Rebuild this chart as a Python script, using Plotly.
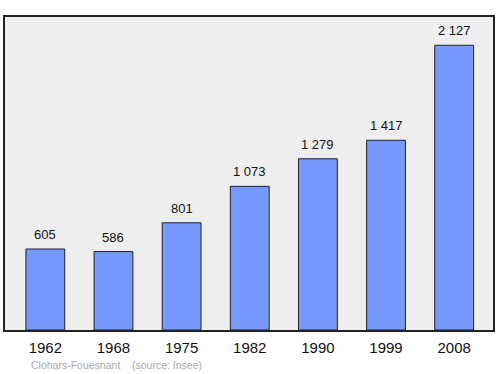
import plotly.graph_objects as go

years = ["1962", "1968", "1975", "1982", "1990", "1999", "2008"]
population = [605, 586, 801, 1073, 1279, 1417, 2127]
labels = ["605", "586", "801", "1 073", "1 279", "1 417", "2 127"]

xpos = list(range(len(years)))
FONT = "Liberation Sans, Arial, sans-serif"

fig = go.Figure(go.Bar(
    x=xpos, y=population, width=0.57,
    marker=dict(color="#7799ff", line=dict(color="#222222", width=1)),
    cliponaxis=False,
))

annotations = [
    dict(x=x, y=v, text=t, xref="x", yref="y", showarrow=False,
         yanchor="bottom", yshift=5,
         font=dict(family=FONT, size=13, color="#111111"))
    for x, v, t in zip(xpos, population, labels)
]
annotations.append(dict(
    text="Clohars-Fouesnant &nbsp;&nbsp;&nbsp;(source: Insee)",
    xref="paper", yref="paper", x=24 / 490, y=-35 / 313, xanchor="left", yanchor="middle",
    showarrow=False, font=dict(family=FONT, size=10.5, color="#aaaaaa"),
))

fig.update_layout(
    width=500, height=374,
    margin=dict(l=5, r=5, t=17, b=44),
    paper_bgcolor="white", plot_bgcolor="#eeeeee",
    showlegend=False,
    xaxis=dict(range=[-0.592, 6.57], tickvals=xpos, ticktext=years,
               showgrid=False, zeroline=False, showline=True, mirror=True,
               linecolor="#222222", linewidth=1.5, ticks="", ticklabelstandoff=3,
               tickfont=dict(family=FONT, size=15, color="#111111")),
    yaxis=dict(range=[0, 2338], showticklabels=False, showgrid=False, zeroline=False,
               showline=True, mirror=True, linecolor="#222222", linewidth=1.5, ticks=""),
    annotations=annotations,
)

fig.write_html("out.html", config={"displayModeBar": False},
               post_script="document.body.style.margin='0';")
